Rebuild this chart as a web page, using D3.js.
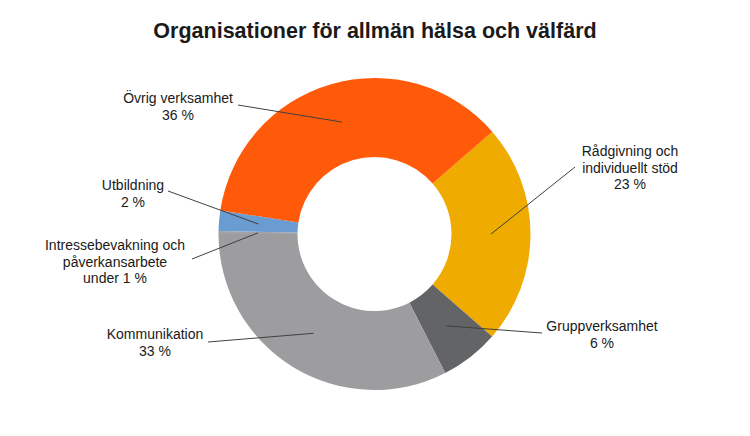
<!DOCTYPE html>
<html>
<head>
<meta charset="utf-8">
<script src="https://cdn.jsdelivr.net/npm/d3@7"></script>
<style>
  body { margin: 0; background: #fff; }
  text { font-family: "Liberation Sans", Arial, sans-serif; fill: #1a1a1a; }
</style>
</head>
<body>
<div id="chart"></div>
<script>
// Data (share in %), in drawing order clockwise
const categories = ["Rådgivning och individuellt stöd", "Gruppverksamhet", "Kommunikation",
  "Intressebevakning och påverkansarbete", "Utbildning", "Övrig verksamhet"];
const values = [22.8, 6.1, 32.5, 0.3, 2.1, 36.2];
const labelLines = [
  ["Rådgivning och", "individuellt stöd", "23 %"],
  ["Gruppverksamhet", "6 %"],
  ["Kommunikation", "33 %"],
  ["Intressebevakning och", "påverkansarbete", "under 1 %"],
  ["Utbildning", "2 %"],
  ["Övrig verksamhet", "36 %"]
];
const colors = ["#F0AB00", "#636466", "#9D9D9F", "#A3A3A5", "#6A9BD1", "#FF5A0A"];

const WIDTH = 750, HEIGHT = 436;
const cx = 374.5, cy = 234;
const outerR = 156, innerR = 77;
const startDeg = 49; // first slice starts a bit past 1 o'clock

// where each label block sits (text centre x, first line y) and where its leader line starts
const labelLayout = [
  { x: 630, y: 156, lx: 575, ly: 167 },
  { x: 602, y: 331, lx: 542, ly: 333 },
  { x: 155, y: 339, lx: 208, ly: 342 },
  { x: 115, y: 250, lx: 192, ly: 259 },
  { x: 133, y: 190, lx: 168, ly: 191 },
  { x: 178, y: 103, lx: 238, ly: 105 }
];

const svg = d3.select("#chart").append("svg")
  .attr("width", WIDTH)
  .attr("height", HEIGHT);

svg.append("text")
  .attr("x", WIDTH / 2)
  .attr("y", 38)
  .attr("text-anchor", "middle")
  .style("font-size", "21.5px")
  .style("font-weight", "bold")
  .text("Organisationer för allmän hälsa och välfärd");

const pie = d3.pie()
  .sort(null)
  .value(d => d)
  .startAngle(startDeg * Math.PI / 180)
  .endAngle((startDeg + 360) * Math.PI / 180);

const arc = d3.arc().innerRadius(innerR).outerRadius(outerR);
const arcs = pie(values);

const g = svg.append("g").attr("transform", `translate(${cx},${cy})`);

g.selectAll("path")
  .data(arcs)
  .enter()
  .append("path")
  .attr("d", arc)
  .attr("fill", (d, i) => colors[i]);

// leader lines from label to the slice centroid
g.selectAll(".leader")
  .data(arcs)
  .enter()
  .append("line")
  .attr("class", "leader")
  .attr("x1", (d, i) => labelLayout[i].lx - cx)
  .attr("y1", (d, i) => labelLayout[i].ly - cy)
  .attr("x2", d => arc.centroid(d)[0])
  .attr("y2", d => arc.centroid(d)[1])
  .attr("stroke", "#404040")
  .attr("stroke-width", 1);

// labels
labelLines.forEach((lines, i) => {
  const t = svg.append("text")
    .attr("text-anchor", "middle")
    .style("font-size", "14px");
  lines.forEach((ln, j) => {
    t.append("tspan")
      .attr("x", labelLayout[i].x)
      .attr("y", labelLayout[i].y + j * 16.5)
      .text(ln);
  });
});
</script>
</body>
</html>
